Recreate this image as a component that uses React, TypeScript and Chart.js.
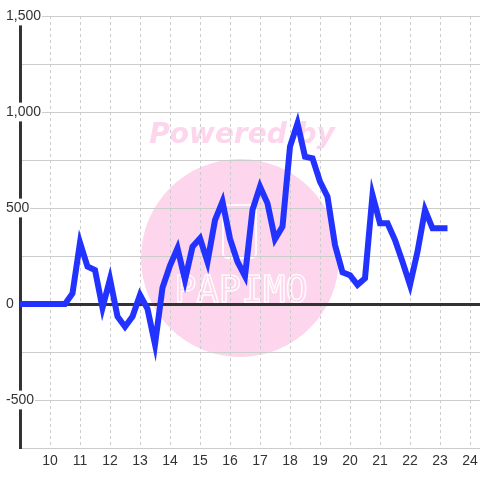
import { useEffect, useRef } from 'react';
import { Chart, registerables } from 'chart.js';

Chart.register(...registerables);

// time of day in hours (15-minute readings)
const hours = [
  9, 9.25, 9.5, 9.75, 10, 10.25, 10.5, 10.75,
  11, 11.25, 11.5, 11.75, 12, 12.25, 12.5, 12.75,
  13, 13.25, 13.5, 13.75, 14, 14.25, 14.5, 14.75,
  15, 15.25, 15.5, 15.75, 16, 16.25, 16.5, 16.75,
  17, 17.25, 17.5, 17.75, 18, 18.25, 18.5, 18.75,
  19, 19.25, 19.5, 19.75, 20, 20.25, 20.5, 20.75,
  21, 21.25, 21.5, 21.75, 22, 22.25, 22.5, 22.75,
  23, 23.25,
];

const values = [
  0, 0, 0, 0, 0, 0, 0, 55,
  320, 195, 177, -20, 130, -65, -118, -65,
  47, -25, -210, 85, 200, 290, 125, 298,
  342, 220, 437, 533, 340, 220, 145, 490,
  611, 524, 338, 403, 820, 941, 767, 759,
  637, 559, 307, 165, 150, 100, 134, 568,
  420, 420, 333, 220, 99, 272, 490, 394,
  394, 394,
];

const xTickValues = [10, 11, 12, 13, 14, 15, 16, 17, 18, 19, 20, 21, 22, 23, 24];
const yLabelStep = 500;
const yGridStep = 250;
const yMin = -750;
const yMax = 1500;
const xMin = 9;
const xMax = 24 + 1 / 3;

const watermark = {
  id: 'watermark',
  beforeDraw(chart: any) {
    const ctx = chart.ctx as CanvasRenderingContext2D;
    ctx.save();
    ctx.fillStyle = '#fdd5ec';
    ctx.beginPath();
    ctx.arc(240, 258, 99, 0, Math.PI * 2);
    ctx.fill();

    ctx.font = 'italic bold 28px "DejaVu Sans"';
    ctx.textAlign = 'center';
    ctx.textBaseline = 'alphabetic';
    ctx.fillText('Powered by', 242, 143);

    ctx.strokeStyle = 'rgba(255,255,255,0.9)';
    ctx.lineWidth = 2;
    ctx.beginPath();
    (ctx as any).roundRect(223, 205, 33, 53, 5);
    ctx.stroke();

    ctx.lineWidth = 1.5;
    ctx.font = '37px "DejaVu Sans Mono"';
    ctx.strokeText('PAPIMO', 241, 302);
    ctx.restore();
  },
};

export default function App() {
  const ref = useRef<HTMLCanvasElement | null>(null);

  useEffect(() => {
    if (!ref.current) return;
    const chart = new Chart(ref.current, {
      type: 'line',
      data: {
        datasets: [
          {
            data: hours.map((h, i) => ({ x: h, y: values[i] })),
            borderColor: '#2233ff',
            borderWidth: 6,
            pointRadius: 0,
            tension: 0,
            fill: false,
          },
        ],
      },
      options: {
        responsive: false,
        animation: false,
        layout: { padding: { left: 6, top: 16, right: 0, bottom: 0 } },
        plugins: {
          legend: { display: false },
          tooltip: { enabled: false },
        },
        scales: {
          x: {
            type: 'linear',
            min: xMin,
            max: xMax,
            afterBuildTicks: (s: any) => {
              s.ticks = xTickValues.map((v) => ({ value: v }));
            },
            afterFit: (s: any) => {
              s.height = 32;
              s.paddingLeft = 0;
              s.paddingRight = 0;
            },
            grid: { color: '#cccccc', lineWidth: 1, drawTicks: false },
            border: { display: false, dash: [3, 3] },
            ticks: {
              color: '#333',
              padding: 5,
              font: { size: 14, family: '"Liberation Sans", Arial, sans-serif' },
              maxRotation: 0,
              autoSkip: false,
            },
          },
          y: {
            type: 'linear',
            min: yMin,
            max: yMax,
            afterFit: (s: any) => {
              s.width = 14;
            },
            grid: {
              color: (c: any) => (c.tick && c.tick.value === 0 ? '#333333' : '#cccccc'),
              lineWidth: (c: any) => (c.tick && c.tick.value === 0 ? 3 : 1),
              drawTicks: false,
            },
            border: { display: true, color: '#333333', width: 3 },
            ticks: {
              stepSize: yGridStep,
              color: '#333',
              mirror: true,
              padding: -14,
              crossAlign: 'near',
              font: { size: 14, family: '"Liberation Sans", Arial, sans-serif' },
              callback: (v: any) => (Number(v) % yLabelStep === 0 ? Number(v).toLocaleString('en-US') : ''),
              showLabelBackdrop: (c: any) => !!c.tick && c.tick.value % yLabelStep === 0,
              backdropColor: '#ffffff',
              backdropPadding: { left: 1, right: 1, top: 1, bottom: 1 },
            } as any,
          },
        },
      },
      plugins: [watermark],
    });
    return () => chart.destroy();
  }, []);

  return (
    <div style={{ position: 'absolute', left: 0, top: 0, width: 480, height: 480 }}>
      <canvas ref={ref} width={480} height={480} />
    </div>
  );
}
